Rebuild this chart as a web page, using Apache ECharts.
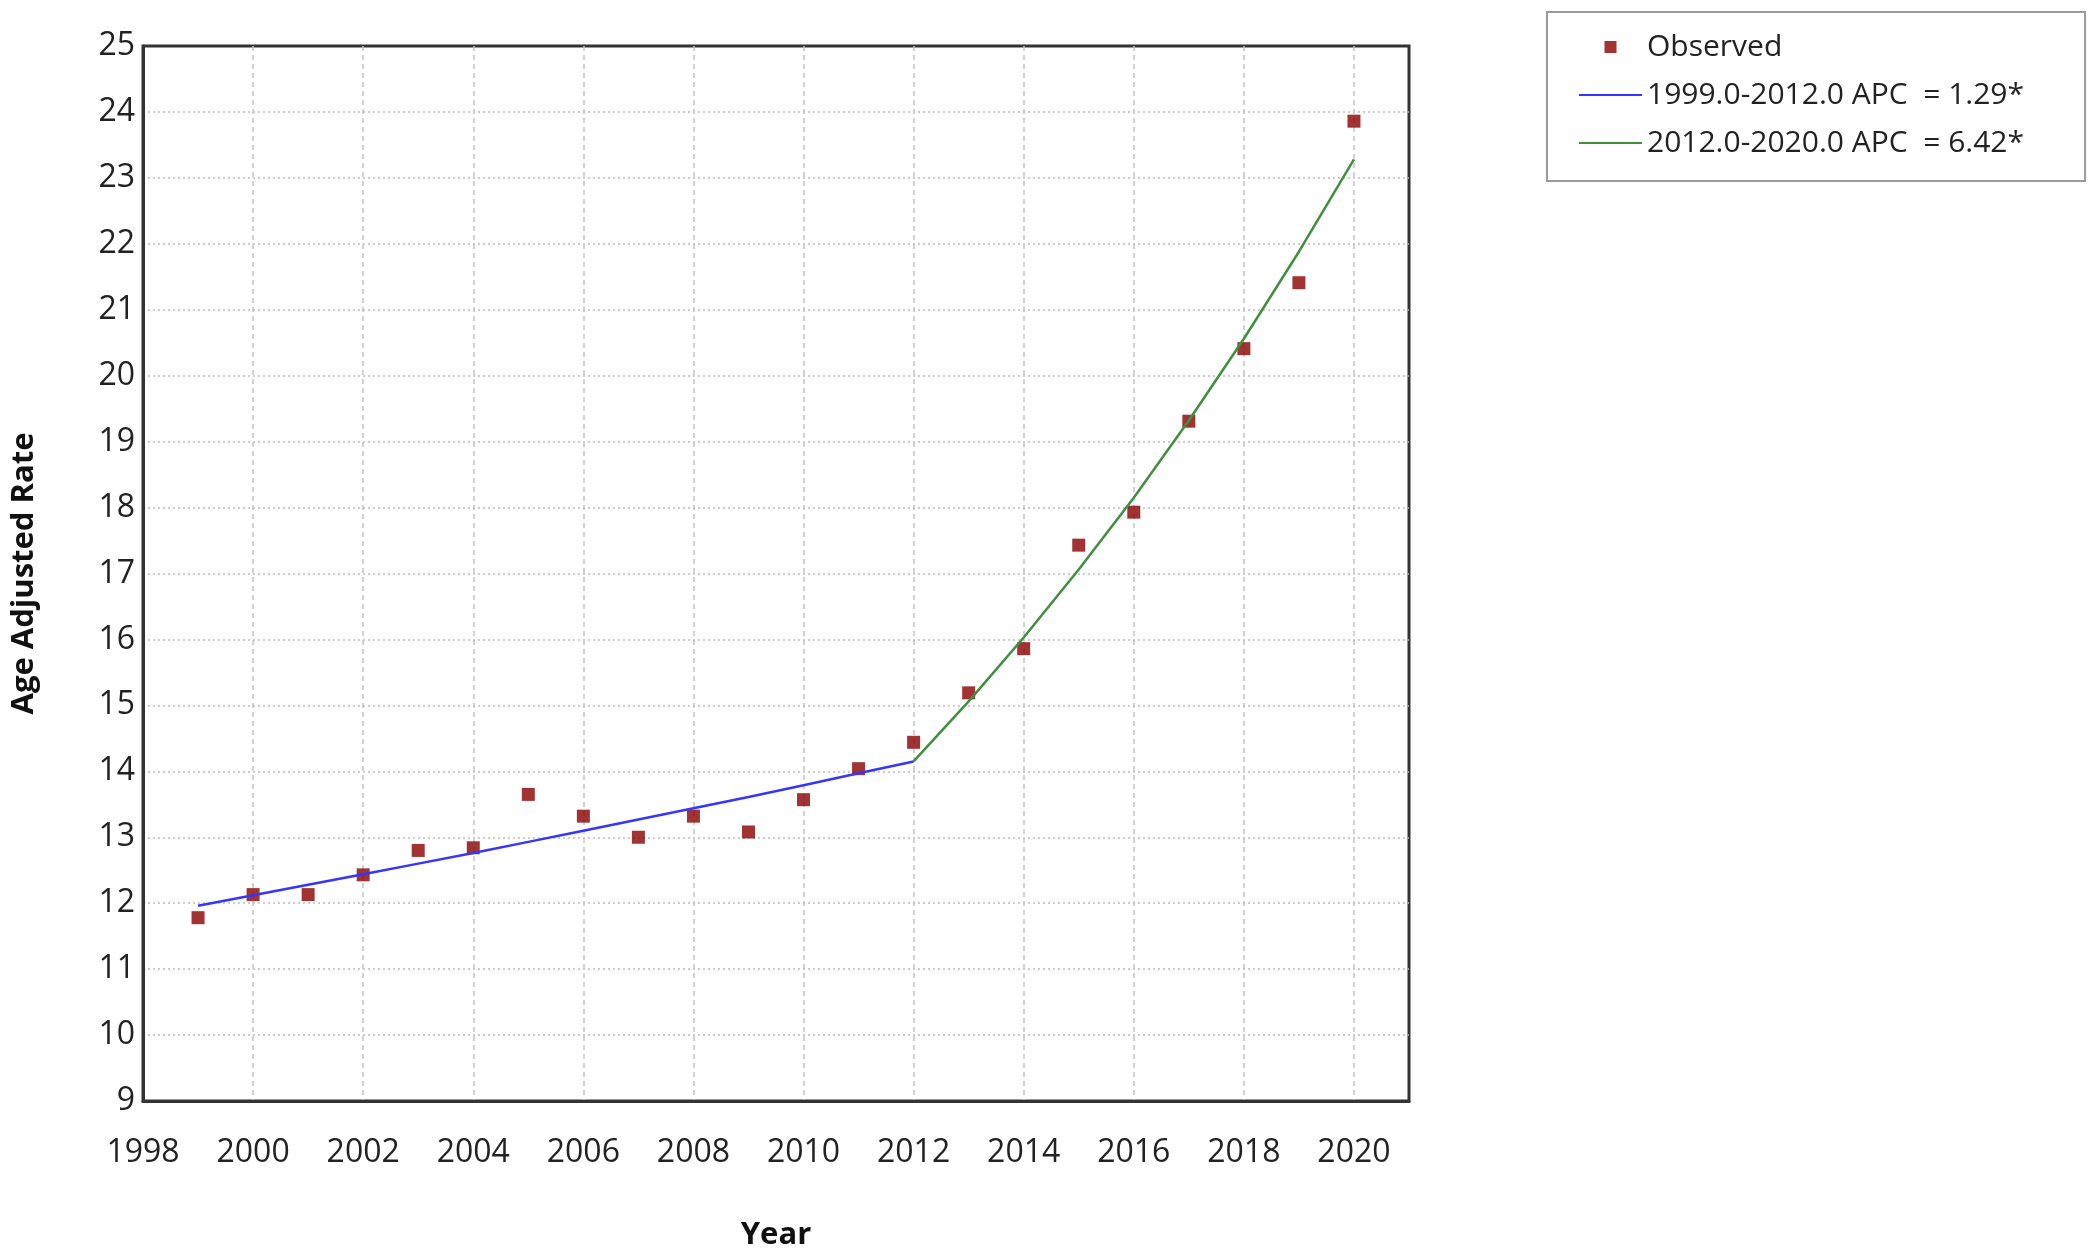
<!DOCTYPE html>
<html>
<head>
<meta charset="utf-8">
<title>Age Adjusted Rate</title>
<script src="https://cdn.jsdelivr.net/npm/echarts@6/dist/echarts.min.js"></script>
<style>
  html, body { margin: 0; padding: 0; background: #fff; }
  #chart { width: 2100px; height: 1259px; }
</style>
</head>
<body>
<div id="chart"></div>
<script>
// observed points
const years = [1999, 2000, 2001, 2002, 2003, 2004, 2005, 2006, 2007, 2008, 2009,
  2010, 2011, 2012, 2013, 2014, 2015, 2016, 2017, 2018, 2019, 2020];
const observed = [11.78, 12.13, 12.13, 12.43, 12.8, 12.84, 13.65, 13.32, 13.0, 13.32, 13.08,
  13.57, 14.04, 14.44, 15.19, 15.86, 17.43, 17.93, 19.31, 20.41, 21.41, 23.86];

// joinpoint segments
const seg1Years = [1999, 2000, 2001, 2002, 2003, 2004, 2005, 2006, 2007, 2008, 2009, 2010, 2011, 2012];
const seg1Fit = [11.96, 12.12, 12.28, 12.44, 12.6, 12.76, 12.93, 13.1, 13.27, 13.44, 13.61, 13.79, 13.97, 14.15];
const seg2Years = [2012, 2013, 2014, 2015, 2016, 2017, 2018, 2019, 2020];
const seg2Fit = [14.15, 15.06, 16.03, 17.06, 18.15, 19.32, 20.56, 21.88, 23.28];

const seriesNames = ["Observed", "1999.0-2012.0 APC  = 1.29*", "2012.0-2020.0 APC  = 6.42*"];

const font = "'Open Sans', 'Noto Sans', sans-serif";

function pairs(xs, ys) {
  return xs.map((x, i) => [x, ys[i]]);
}

function initChart() {
  const chartInstance = echarts.init(document.getElementById("chart"), null, { renderer: "canvas" });
  const option = {
    backgroundColor: "#fff",
    animation: false,
    textStyle: { fontFamily: font, color: "#222" },
    grid: {
      left: 143,
      right: 691,
      top: 46,
      bottom: 158,
      show: true,
      borderColor: "#333",
      borderWidth: 3,
    },
    legend: {
      orient: "vertical",
      left: 1547,
      top: 12,
      padding: [20, 61, 23, 32],
      itemWidth: 63,
      itemHeight: 12,
      itemGap: 18,
      borderColor: "#9a9a9a",
      borderWidth: 2,
      backgroundColor: "#fff",
      textStyle: { fontFamily: font, fontSize: 30, color: "#222" },
      data: [
        // small square, keeps its aspect inside the wide icon box
        { name: seriesNames[0], icon: "path://M0,0h10v10h-10z" },
        // plain lines, no dot in the middle
        { name: seriesNames[1], icon: "path://M0,0h63v2h-63z" },
        { name: seriesNames[2], icon: "path://M0,0h63v2h-63z" },
      ],
    },
    xAxis: {
      type: "value",
      min: 1998,
      max: 2021,
      interval: 2,
      name: "Year",
      nameLocation: "middle",
      nameGap: 119,
      nameTextStyle: { fontFamily: font, fontSize: 31, fontWeight: "bold", color: "#111" },
      axisLine: { show: true, lineStyle: { color: "#333", width: 3 } },
      axisTick: { show: false },
      axisLabel: {
        margin: 36,
        fontSize: 32,
        color: "#222",
        formatter: (v) => (v % 2 === 0 ? String(v) : ""),
      },
      splitLine: {
        show: true,
        showMinLine: false,
        showMaxLine: false,
        lineStyle: { color: "#c4c4c4", width: 1.5, type: [5, 4] },
      },
    },
    yAxis: {
      type: "value",
      min: 9,
      max: 25,
      interval: 1,
      name: "Age Adjusted Rate",
      nameLocation: "middle",
      nameGap: 103,
      nameTextStyle: { fontFamily: font, fontSize: 31, fontWeight: "bold", color: "#111" },
      axisLine: { show: true, lineStyle: { color: "#333", width: 3 } },
      axisTick: { show: false },
      axisLabel: { margin: 8, fontSize: 32, color: "#222" },
      splitLine: {
        show: true,
        showMinLine: false,
        showMaxLine: false,
        lineStyle: { color: "#bdbdbd", width: 1.5, type: [2, 3] },
      },
    },
    series: [
      {
        name: seriesNames[0],
        type: "scatter",
        symbol: "rect",
        symbolSize: 13,
        itemStyle: { color: "#8b0000" },
        data: pairs(years, observed),
        z: 2,
      },
      {
        name: seriesNames[1],
        type: "line",
        symbol: "none",
        showSymbol: false,
        lineStyle: { color: "#3535ff", width: 2.5 },
        itemStyle: { color: "#3535ff" },
        data: pairs(seg1Years, seg1Fit),
        z: 3,
      },
      {
        name: seriesNames[2],
        type: "line",
        symbol: "none",
        showSymbol: false,
        lineStyle: { color: "#3f8f3f", width: 2.5 },
        itemStyle: { color: "#3f8f3f" },
        data: pairs(seg2Years, seg2Fit),
        z: 3,
      },
    ],
  };
  chartInstance.setOption(option);
}

initChart();
</script>
</body>
</html>
